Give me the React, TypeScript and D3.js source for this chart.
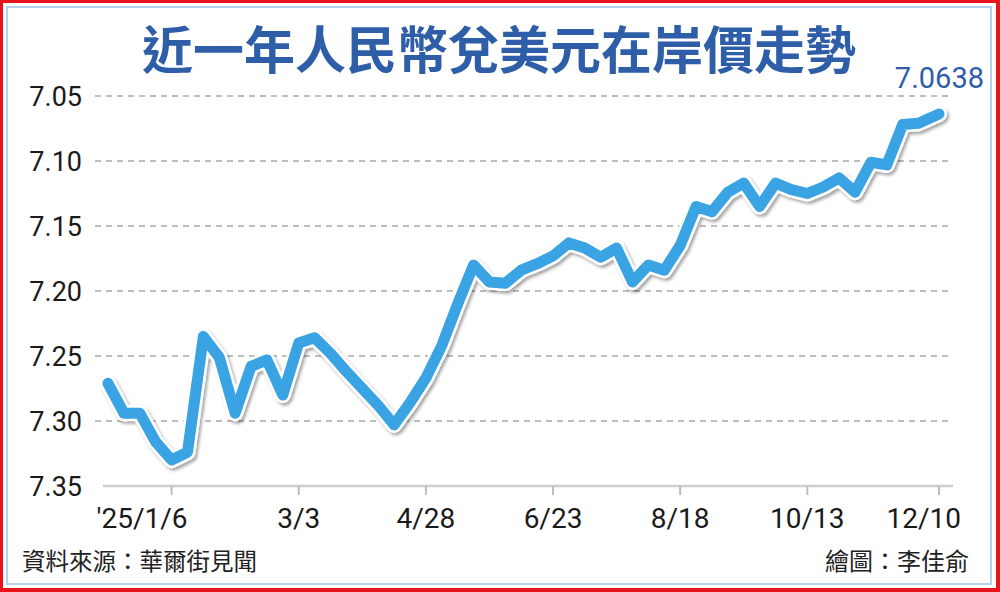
import React, { useLayoutEffect } from "react";
import * as d3 from "d3";

const TITLE = "近一年人民幣兌美元在岸價走勢";
const SOURCE = "資料來源：華爾街見聞";
const CREDIT = "繪圖：李佳俞";
const LAST_LABEL = "7.0638";

const dates: string[] = [
  "2024-12-09", "2024-12-16", "2024-12-23", "2024-12-30", "2025-01-06", "2025-01-13",
  "2025-01-20", "2025-01-27", "2025-02-03", "2025-02-10", "2025-02-17", "2025-02-24",
  "2025-03-03", "2025-03-10", "2025-03-17", "2025-03-24", "2025-03-31", "2025-04-07",
  "2025-04-14", "2025-04-21", "2025-04-28", "2025-05-05", "2025-05-12", "2025-05-19",
  "2025-05-26", "2025-06-02", "2025-06-09", "2025-06-16", "2025-06-23", "2025-06-30",
  "2025-07-07", "2025-07-14", "2025-07-21", "2025-07-28", "2025-08-04", "2025-08-11",
  "2025-08-18", "2025-08-25", "2025-09-01", "2025-09-08", "2025-09-15", "2025-09-22",
  "2025-09-29", "2025-10-06", "2025-10-13", "2025-10-20", "2025-10-27", "2025-11-03",
  "2025-11-10", "2025-11-17", "2025-11-24", "2025-12-01", "2025-12-10",
];

const values: number[] = [
  7.271, 7.294, 7.294, 7.316, 7.330, 7.324,
  7.235, 7.251, 7.294, 7.258, 7.253, 7.280,
  7.240, 7.236, 7.248, 7.262, 7.275, 7.288,
  7.303, 7.286, 7.267, 7.242, 7.210, 7.180,
  7.193, 7.194, 7.184, 7.179, 7.173, 7.163,
  7.167, 7.174, 7.167, 7.193, 7.180, 7.184,
  7.165, 7.135, 7.139, 7.124, 7.117, 7.135,
  7.117, 7.122, 7.125, 7.120, 7.113, 7.124,
  7.101, 7.103, 7.072, 7.071, 7.0638,
];

const yTicks: number[] = [7.05, 7.1, 7.15, 7.2, 7.25, 7.3, 7.35];
const xTickDates: string[] = ["2025-01-06", "2025-03-03", "2025-04-28", "2025-06-23", "2025-08-18", "2025-10-13", "2025-12-10"];
const xTickLabels: string[] = ["'25/1/6", "3/3", "4/28", "6/23", "8/18", "10/13", "12/10"];

const W = 1000;
const H = 592;

export default function App() {
  useLayoutEffect(() => {
    document.body.style.margin = "0";
  }, []);

  const parse = d3.timeParse("%Y-%m-%d");
  const pts = dates.map((d, i) => ({ date: parse(d) as Date, value: values[i] }));

  const x = d3
    .scaleTime()
    .domain([pts[0].date, pts[pts.length - 1].date])
    .range([108, 939]);
  const y = d3.scaleLinear().domain([7.05, 7.35]).range([96, 486]);

  const line = d3
    .line<{ date: Date; value: number }>()
    .x((d) => x(d.date))
    .y((d) => y(d.value))
    .curve(d3.curveLinear);
  const path = line(pts) || "";

  const numFont = "Roboto, 'Liberation Sans', Arial, sans-serif";
  const cjkFont = "'Noto Sans CJK TC', 'Noto Sans CJK SC', sans-serif";

  const labelAnchor = (i: number) => (i === 0 || i === xTickLabels.length - 1 ? "end" : "middle");
  const labelX = (d: string, i: number) => {
    const xx = x(parse(d) as Date);
    if (i === 0) return xx + 16;
    if (i === xTickLabels.length - 1) return xx + 22;
    return xx;
  };

  return (
    <svg width={W} height={H} style={{ display: "block" }} xmlns="http://www.w3.org/2000/svg">
      <defs>
        <filter id="shadow" x="-10%" y="-10%" width="120%" height="130%">
          <feDropShadow dx="2" dy="2.5" stdDeviation="1.6" floodColor="#000" floodOpacity="0.35" />
        </filter>
      </defs>
      <rect x={0} y={0} width={W} height={H} fill="#ffffff" />
      {/* outer red frame */}
      <rect x={1.5} y={1.5} width={W - 3} height={H - 3} fill="none" stroke="#e8141b" strokeWidth={3} />
      <rect x={0} y={588} width={W} height={4} fill="#e8141b" />
      <rect x={996} y={0} width={4} height={H} fill="#e8141b" />
      {/* inner light-blue frame */}
      <rect x={7} y={7} width={984} height={577} fill="none" stroke="#b5d0ea" strokeWidth={2} />

      {/* title */}
      <text
        x={499}
        y={69}
        textAnchor="middle"
        fontFamily={cjkFont}
        fontWeight={700}
        fontSize={51}
        fill="#2f5ea9"
      >
        {TITLE}
      </text>

      {/* gridlines */}
      {yTicks.slice(0, -1).map((t) => (
        <line
          key={"g" + t}
          x1={95}
          x2={951}
          y1={y(t)}
          y2={y(t)}
          stroke="#a9a9a9"
          strokeWidth={1.5}
          strokeDasharray="6,5"
        />
      ))}
      {/* baseline */}
      <line x1={103} x2={953} y1={y(7.35)} y2={y(7.35)} stroke="#cfcfcf" strokeWidth={2.5} />
      {xTickDates.map((d) => {
        const xx = x(parse(d) as Date);
        return <line key={"t" + d} x1={xx} x2={xx} y1={y(7.35)} y2={y(7.35) + 9} stroke="#bdbdbd" strokeWidth={2} />;
      })}

      {/* y labels */}
      {yTicks.map((t) => (
        <text
          key={"yl" + t}
          x={82}
          y={y(t) + 10}
          textAnchor="end"
          fontFamily={numFont}
          fontSize={27}
          fill="#1a1a1a"
        >
          {t.toFixed(2)}
        </text>
      ))}

      {/* x labels */}
      {xTickDates.map((d, i) => (
        <text
          key={"xl" + d}
          x={labelX(d, i)}
          y={528}
          textAnchor={labelAnchor(i)}
          fontFamily={numFont}
          fontSize={28}
          fill="#1a1a1a"
        >
          {xTickLabels[i]}
        </text>
      ))}

      {/* line with white outline and shadow */}
      <path
        d={path}
        fill="none"
        stroke="#ffffff"
        strokeWidth={16}
        strokeLinejoin="round"
        strokeLinecap="round"
        filter="url(#shadow)"
      />
      <path
        d={path}
        fill="none"
        stroke="#3aa3e4"
        strokeWidth={11}
        strokeLinejoin="round"
        strokeLinecap="round"
      />

      {/* last value label */}
      <text
        x={984}
        y={88}
        textAnchor="end"
        fontFamily={numFont}
        fontSize={29}
        fill="#2f5ea9"
      >
        {LAST_LABEL}
      </text>

      {/* footer */}
      <text x={22} y={570} fontFamily={cjkFont} fontSize={23.5} fill="#222">
        {SOURCE}
      </text>
      <text x={969} y={570} textAnchor="end" fontFamily={cjkFont} fontSize={24} fill="#222">
        {CREDIT}
      </text>
    </svg>
  );
}
